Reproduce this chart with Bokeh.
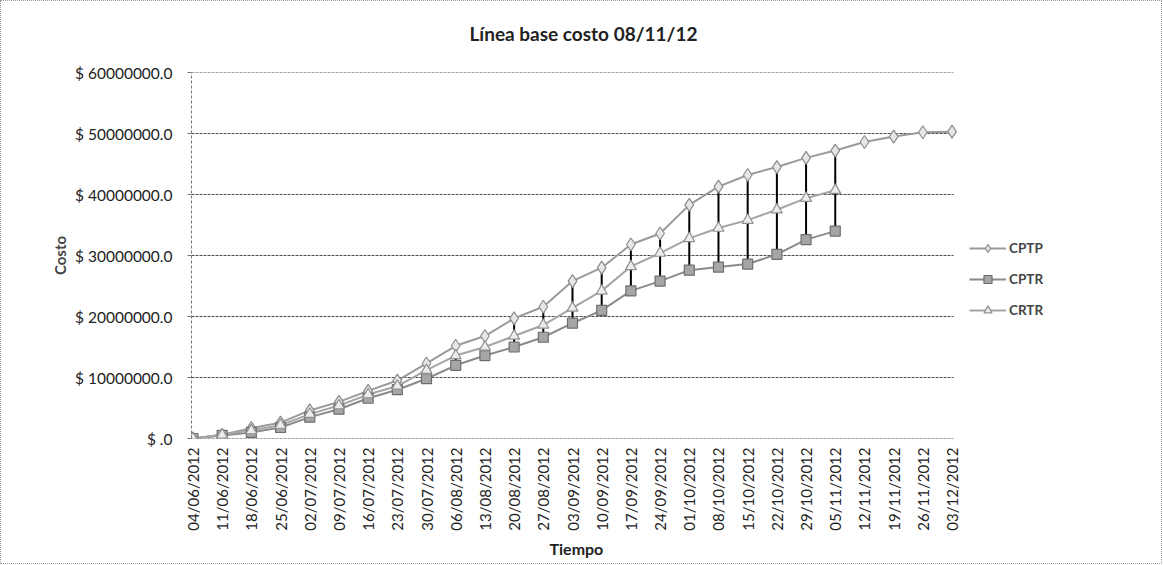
from bokeh.plotting import figure
from bokeh.models import FixedTicker, Legend, LegendItem, Range1d, Title
from bokeh.embed import file_html
from bokeh.resources import INLINE
from math import pi

# ---- data ----
dates = ["04/06/2012", "11/06/2012", "18/06/2012", "25/06/2012", "02/07/2012", "09/07/2012",
         "16/07/2012", "23/07/2012", "30/07/2012", "06/08/2012", "13/08/2012", "20/08/2012",
         "27/08/2012", "03/09/2012", "10/09/2012", "17/09/2012", "24/09/2012", "01/10/2012",
         "08/10/2012", "15/10/2012", "22/10/2012", "29/10/2012", "05/11/2012", "12/11/2012",
         "19/11/2012", "26/11/2012", "03/12/2012"]

cptp = [0, 600000, 1700000, 2600000, 4600000, 6000000, 7800000, 9500000, 12300000, 15200000,
        16800000, 19700000, 21600000, 25800000, 28000000, 31800000, 33600000, 38300000,
        41300000, 43200000, 44500000, 46000000, 47200000, 48600000, 49500000, 50200000, 50300000]
cptr = [0, 500000, 1000000, 1800000, 3500000, 4800000, 6600000, 8000000, 9800000, 12000000,
        13600000, 15000000, 16600000, 18900000, 21000000, 24200000, 25800000, 27600000,
        28100000, 28600000, 30200000, 32600000, 34000000]
crtr = [0, 600000, 1300000, 2200000, 4000000, 5400000, 7200000, 8600000, 11200000, 13600000,
        15000000, 16800000, 18600000, 21400000, 24200000, 28200000, 30400000, 32800000,
        34500000, 35800000, 37500000, 39400000, 40700000]

y_ticks = [0, 10000000, 20000000, 30000000, 40000000, 50000000, 60000000]
y_labels = ["$ .0", "$ 10000000.0", "$ 20000000.0", "$ 30000000.0", "$ 40000000.0",
            "$ 50000000.0", "$ 60000000.0"]

FONT = "Lato"

x_all = list(range(len(dates)))
x_act = list(range(len(cptr)))

# layout: plot area for the categories is 762 px wide; the frame continues to the right
# so that the legend (placed inside the frame) is not clipped.
PAD = 0.05
DATA_W = 762
FRAME_W = 958
x_lo = -PAD
x_hi_data = len(dates) - 1 + PAD
x_hi = x_lo + (x_hi_data - x_lo) * FRAME_W / DATA_W

p = figure(frame_width=FRAME_W, frame_height=366, output_backend="svg", toolbar_location=None,
           x_range=Range1d(x_lo, x_hi), y_range=Range1d(0, 60000000),
           min_border_left=190, min_border_right=12, min_border_top=71, min_border_bottom=125,
           styles={"border": "1px dotted #999999"})

p.outline_line_color = None
p.background_fill_color = "white"
p.border_fill_color = "white"

# title (a second, empty line keeps it higher above the plot area)
p.add_layout(Title(text="Línea base costo  08/11/12\n ", text_font=FONT, text_font_size="19px",
                   text_font_style="bold", text_color="#222222", align="left", offset=278),
             "above")

# axes
p.xaxis.ticker = FixedTicker(ticks=x_all)
p.xaxis.major_label_overrides = {i: d for i, d in enumerate(dates)}
p.xaxis.major_label_orientation = pi / 2
p.xaxis.major_label_text_font = FONT
p.xaxis.major_label_text_font_size = "15px"
p.xaxis.major_label_text_color = "#222222"
p.xaxis.major_label_standoff = 9
p.xaxis.major_tick_out = 0
p.xaxis.major_tick_in = 0
p.xaxis.minor_tick_line_color = None
p.xaxis.axis_line_color = None

# x-axis title, centred under the category area
p.add_layout(Title(text="Tiempo", text_font=FONT, text_font_size="16px",
                   text_font_style="bold", text_color="#222222", align="left", offset=358,
                   standoff=6), "below")

p.yaxis.ticker = FixedTicker(ticks=y_ticks)
p.yaxis.major_label_overrides = {t: l for t, l in zip(y_ticks, y_labels)}
p.yaxis.major_label_text_font = FONT
p.yaxis.major_label_text_font_size = "15.5px"
p.yaxis.major_label_text_color = "#222222"
p.yaxis.major_label_standoff = 15
p.yaxis.major_tick_out = 4
p.yaxis.major_tick_in = 0
p.yaxis.major_tick_line_color = "#777777"
p.yaxis.minor_tick_line_color = None
p.yaxis.axis_line_color = "#777777"
p.yaxis.axis_line_dash = "3 2"
p.yaxis.axis_label = "Costo"
p.yaxis.axis_label_text_font = FONT
p.yaxis.axis_label_text_font_size = "15px"
p.yaxis.axis_label_text_font_style = "bold"
p.yaxis.axis_label_standoff = 3

# horizontal gridlines limited to the category area
p.xgrid.visible = False
p.ygrid.visible = False
p.segment(x0=[x_lo] * len(y_ticks), y0=y_ticks, x1=[x_hi_data] * len(y_ticks), y1=y_ticks,
          line_color="#4d4d4d", line_dash="3 1", line_width=1)

# series lines
l1 = p.line(x_all, cptp, line_color="#9a9a9a", line_width=2)
l2 = p.line(x_act, cptr, line_color="#8a8a8a", line_width=2)
l3 = p.line(x_act, crtr, line_color="#a5a5a5", line_width=2)

# high-low lines
p.segment(x0=x_act, y0=cptr, x1=x_act, y1=cptp[:len(cptr)], line_color="black", line_width=2)

# markers
m1 = p.scatter(x_all, cptp, marker="diamond", size=13, fill_color="#e6e6e6",
               line_color="#8c8c8c", line_width=1.2)
m2 = p.scatter(x_act, cptr, marker="square", size=10, fill_color="#a6a6a6",
               line_color="#6e6e6e", line_width=1.2)
m3 = p.scatter(x_act, crtr, marker="triangle", size=11, fill_color="#ececec",
               line_color="#909090", line_width=1.2)

legend = Legend(items=[LegendItem(label="CPTP", renderers=[l1, m1]),
                       LegendItem(label="CPTR", renderers=[l2, m2]),
                       LegendItem(label="CRTR", renderers=[l3, m3])],
                location=(778, 118), orientation="vertical",
                glyph_width=37, glyph_height=20, label_height=20, spacing=11,
                padding=0, margin=0, border_line_color=None, background_fill_alpha=0,
                label_text_font=FONT, label_text_font_size="13.5px",
                label_text_font_style="bold", label_standoff=3)
p.add_layout(legend)

open("out.html", "w").write(file_html(p, INLINE))
